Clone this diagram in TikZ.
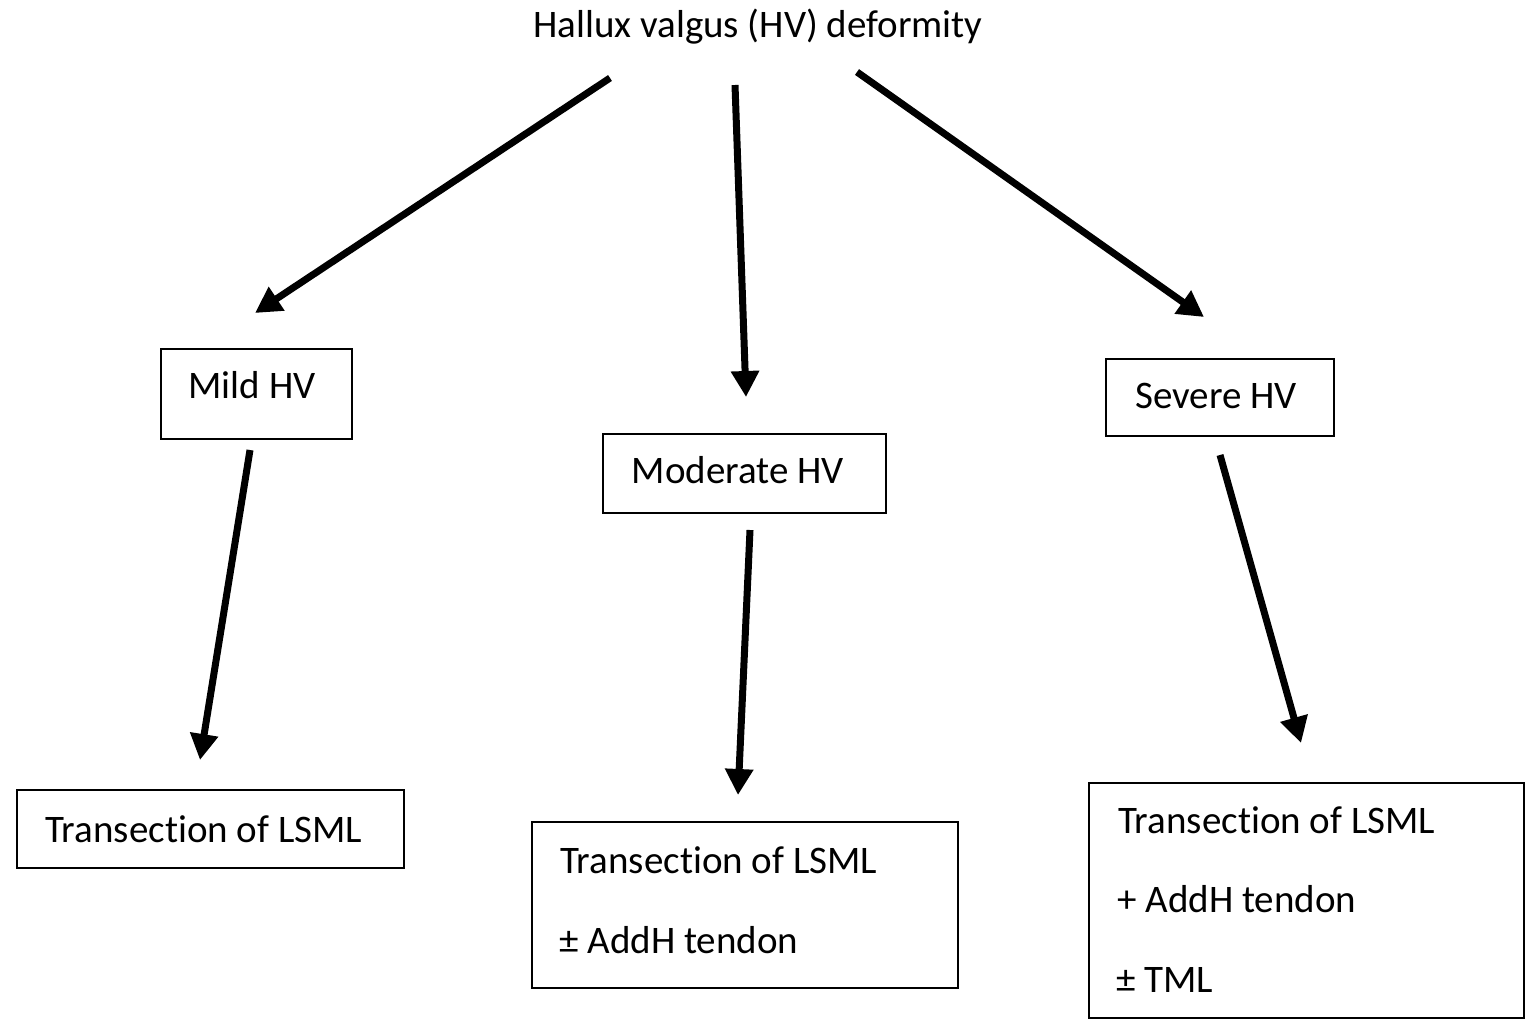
\documentclass[tikz,border=0pt]{standalone}
\usepackage{fontspec}
\setmainfont{Carlito}[Ligatures=NoCommon]
\usetikzlibrary{arrows.meta}
\begin{document}
\begin{tikzpicture}[x=0.5pt,y=-0.5pt,
  box/.style={draw=black,line width=1.1pt,inner sep=0pt},
  txt/.style={inner sep=0pt,font=\fontsize{19.5pt}{23pt}\selectfont},
  arr/.style={line width=3.5pt,-{Triangle[length=13pt,width=13.5pt]}}]
\useasboundingbox (0,0) rectangle (1529,1019);
% title
\node[txt,anchor=base] (title) at (758,37) {Hallux valgus (HV) deformity};
% level 1 boxes
\node[box,minimum width=95.5pt,minimum height=45pt] (mild) at (256.5,394) {};
\node[txt,anchor=base] (mildt) at (252,398) {Mild HV};
\node[box,minimum width=141.5pt,minimum height=39.5pt] (mod) at (744.5,473.5) {};
\node[txt,anchor=base] (modt) at (738,483) {Moderate HV};
\node[box,minimum width=114pt,minimum height=38.5pt] (sev) at (1220,397.5) {};
\node[txt,anchor=base] (sevt) at (1216,408) {Severe HV};
% level 2 boxes
\node[box,minimum width=193.5pt,minimum height=39pt] (mildb) at (210.5,829) {};
\node[txt,anchor=base west] (mildb1) at (45,842) {Transection of LSML};
\node[box,minimum width=213pt,minimum height=83pt] (modb) at (745,905) {};
\node[txt,anchor=base west] (modb1) at (560,873) {Transection of LSML};
\node[txt,anchor=base west] (modb2) at (559,953) {± AddH tendon};
\node[box,minimum width=217.5pt,minimum height=117.5pt] (sevb) at (1306.5,900.5) {};
\node[txt,anchor=base west] (sevb1) at (1118,833) {Transection of LSML};
\node[txt,anchor=base west] (sevb2) at (1117,912) {+ AddH tendon};
\node[txt,anchor=base west] (sevb3) at (1116,992) {± TML};
% arrow endpoints
\coordinate (a1s) at (610,78);  \coordinate (a1e) at (255,313);
\coordinate (a2s) at (735,85);  \coordinate (a2e) at (746,397);
\coordinate (a3s) at (857,72);  \coordinate (a3e) at (1204,317);
\coordinate (a4s) at (250,450); \coordinate (a4e) at (200,760);
\coordinate (a5s) at (750,530); \coordinate (a5e) at (738,795);
\coordinate (a6s) at (1220,455);\coordinate (a6e) at (1301,743);
\draw[arr] (a1s) -- (a1e);
\draw[arr] (a2s) -- (a2e);
\draw[arr] (a3s) -- (a3e);
\draw[arr] (a4s) -- (a4e);
\draw[arr] (a5s) -- (a5e);
\draw[arr] (a6s) -- (a6e);
\end{tikzpicture}
\end{document}
